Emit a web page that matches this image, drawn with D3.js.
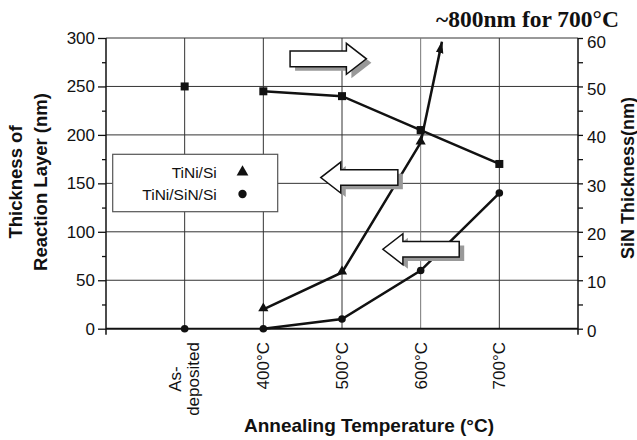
<html>
<script src="https://cdn.jsdelivr.net/npm/d3@7"></script>
<style>
body { margin: 0; background: #fff; }
text { font-family: "Liberation Sans", Arial, sans-serif; fill: #111; }
</style>
<body>
<div id="chart"></div>
<script>
// categories sit at index 1..5 of the x scale (0 and 6 are the frame edges)
var categories = ["As-deposited", "400°C", "500°C", "600°C", "700°C"];
var catIndex = [1, 2, 3, 4, 5];

// thickness of reaction layer (nm), left axis
var tiniSi = [null, 20, 58, 192, null];
var tiniSiNSi = [0, 0, 10, 60, 140];
// 700°C value for TiNi/Si is ~800nm, drawn as an arrow leaving the frame
var tiniSiArrowEnd = {i: 4.27, v: 296};

// SiN thickness (nm), right axis
var sinThick = [50, 49, 48, 41, 34];

var leftTicks = [0, 50, 100, 150, 200, 250, 300];
var leftMinor = [25, 75, 125, 175, 225, 275];
var rightTicks = [0, 10, 20, 30, 40, 50, 60];
var rightMinor = [5, 15, 25, 35, 45, 55];

// block arrows pointing at the axis each series belongs to
var blockArrows = [
  {from: 2.34, to: 3.31, v: 278.5},
  {from: 3.71, to: 2.73, v: 156},
  {from: 4.49, to: 3.52, v: 82}
];

var W = 637, H = 440;
var svg = d3.select("#chart").append("svg").attr("width", W).attr("height", H);

var x = d3.scaleLinear().domain([0, 6]).range([106, 578]);
var yL = d3.scaleLinear().domain([0, 300]).range([328.7, 38]);
var yR = d3.scaleLinear().domain([0, 60]).range([328.7, 38]);

// gridlines
svg.append("g").selectAll("line.h")
  .data(leftTicks.slice(1))
  .enter().append("line")
  .attr("x1", x(0)).attr("x2", x(6))
  .attr("y1", function(d){ return yL(d); }).attr("y2", function(d){ return yL(d); })
  .style("stroke", "#333").style("stroke-width", 1);

svg.append("g").selectAll("line.v")
  .data(catIndex)
  .enter().append("line")
  .attr("x1", function(d){ return x(d); }).attr("x2", function(d){ return x(d); })
  .attr("y1", yL(300)).attr("y2", yL(0))
  .style("stroke", function(d){ return d == 4 ? "#777" : "#333"; })
  .style("stroke-width", 1);

// axes
var gl = svg.append("g").attr("transform", "translate(" + x(0) + ",0)")
  .call(d3.axisLeft(yL).tickValues(leftTicks).tickSize(8).tickPadding(3));
gl.append("g").call(d3.axisLeft(yL).tickValues(leftMinor).tickSize(4).tickFormat(""));

var gr = svg.append("g").attr("transform", "translate(" + x(6) + ",0)")
  .call(d3.axisRight(yR).tickValues(rightTicks).tickSize(5).tickPadding(4));
gr.append("g").call(d3.axisRight(yR).tickValues(rightMinor).tickSize(5).tickFormat(""));
gr.selectAll(".tick text").attr("dy", function(d){ return d == 60 ? "0.55em" : "0.45em"; });

svg.selectAll(".domain").remove();
svg.selectAll(".tick line").style("stroke", "#111").style("stroke-width", 1.3);
svg.selectAll(".tick text").style("font-size", "17px").style("font-family", "'Liberation Sans', Arial, sans-serif").style("fill", "#111");

// frame axis lines
svg.append("line").attr("x1", x(0)).attr("x2", x(0)).attr("y1", yL(300)).attr("y2", yL(0) + 6)
  .style("stroke", "#111").style("stroke-width", 1.5);
svg.append("line").attr("x1", x(6)).attr("x2", x(6)).attr("y1", yL(300)).attr("y2", yL(0) + 6)
  .style("stroke", "#111").style("stroke-width", 1.5);
svg.append("line").attr("x1", x(0)).attr("x2", x(6)).attr("y1", yL(0)).attr("y2", yL(0))
  .style("stroke", "#111").style("stroke-width", 2);

// x tick labels, rotated
var xl = svg.append("g");
categories.forEach(function(c, k) {
  var cx = x(catIndex[k]);
  if (c == "As-deposited") {
    var t = xl.append("text")
      .attr("transform", "translate(" + cx + ",379) rotate(-90)")
      .attr("text-anchor", "middle").style("font-size", "17px");
    t.append("tspan").attr("x", 0).attr("dy", "-0.45em").text("As-");
    t.append("tspan").attr("x", 0).attr("dy", "1.05em").text("deposited");
    t.attr("dominant-baseline", "middle");
  } else {
    xl.append("text")
      .attr("transform", "translate(" + cx + ",342) rotate(-90)")
      .attr("text-anchor", "end").attr("dy", "0.36em")
      .style("font-size", "17px").text(c);
  }
});

// lines
var lineL = d3.line().x(function(d){ return x(d.i); }).y(function(d){ return yL(d.v); });
var lineR = d3.line().x(function(d){ return x(d.i); }).y(function(d){ return yR(d.v); });

function pts(vals, from) {
  var out = [];
  vals.forEach(function(v, k) {
    if (v != null && k >= from) out.push({i: catIndex[k], v: v});
  });
  return out;
}

svg.append("defs").append("marker")
  .attr("id", "tip").attr("viewBox", "0 0 10 10")
  .attr("refX", 9).attr("refY", 5)
  .attr("markerWidth", 5).attr("markerHeight", 5).attr("orient", "auto")
  .append("path").attr("d", "M0,2L10,5L0,8z").style("fill", "#111");

var triPts = pts(tiniSi, 1);
svg.append("path").datum(triPts)
  .attr("d", lineL).style("fill", "none").style("stroke", "#111").style("stroke-width", 2.5);
svg.append("path").datum([triPts[triPts.length - 1], tiniSiArrowEnd])
  .attr("d", lineL).style("fill", "none").style("stroke", "#111").style("stroke-width", 2.5)
  .attr("marker-end", "url(#tip)");

svg.append("path").datum(pts(tiniSiNSi, 1))
  .attr("d", lineL).style("fill", "none").style("stroke", "#111").style("stroke-width", 2.5);

svg.append("path").datum(pts(sinThick, 1))
  .attr("d", lineR).style("fill", "none").style("stroke", "#111").style("stroke-width", 2.5);

// markers
svg.append("g").selectAll("path")
  .data(pts(tiniSi, 0))
  .enter().append("path")
  .attr("d", d3.symbol().type(d3.symbolTriangle).size(45))
  .attr("transform", function(d){ return "translate(" + x(d.i) + "," + (yL(d.v) - 1) + ")"; })
  .style("fill", "#111");

svg.append("g").selectAll("circle")
  .data(pts(tiniSiNSi, 0))
  .enter().append("circle")
  .attr("cx", function(d){ return x(d.i); }).attr("cy", function(d){ return yL(d.v); })
  .attr("r", 3.8).style("fill", "#111");

svg.append("g").selectAll("rect")
  .data(pts(sinThick, 0))
  .enter().append("rect")
  .attr("x", function(d){ return x(d.i) - 4; }).attr("y", function(d){ return yR(d.v) - 4; })
  .attr("width", 8).attr("height", 8).style("fill", "#111");

// block arrows
function arrowPath(a) {
  var x0 = x(a.from), x1 = x(a.to), yc = yL(a.v);
  var dir = x1 > x0 ? 1 : -1, h = 7.8, hh = 15.5, L = 20 * dir;
  return "M" + x0 + "," + (yc - h) + "L" + (x1 - L) + "," + (yc - h) +
    "L" + (x1 - L) + "," + (yc - hh) + "L" + x1 + "," + yc +
    "L" + (x1 - L) + "," + (yc + hh) + "L" + (x1 - L) + "," + (yc + h) +
    "L" + x0 + "," + (yc + h) + "Z";
}
var ba = svg.append("g").selectAll("g").data(blockArrows).enter().append("g");
ba.append("path").attr("d", arrowPath).attr("transform", "translate(5,4)").style("fill", "#999");
ba.append("path").attr("d", arrowPath)
  .style("fill", "#fff").style("stroke", "#111").style("stroke-width", 1.5);

// legend
var lg = svg.append("g");
lg.append("rect").attr("x", 112.7).attr("y", 154.3).attr("width", 165).attr("height", 57.4)
  .style("fill", "#fff").style("stroke", "#555").style("stroke-width", 1.2);
lg.append("text").attr("x", 216.7).attr("y", 178.3).attr("text-anchor", "end")
  .style("font-size", "15.5px").text("TiNi/Si");
lg.append("text").attr("x", 216.7).attr("y", 200).attr("text-anchor", "end")
  .style("font-size", "15.5px").text("TiNi/SiN/Si");
lg.append("path").attr("d", d3.symbol().type(d3.symbolTriangle).size(60))
  .attr("transform", "translate(242.5,172)").style("fill", "#111");
lg.append("circle").attr("cx", 242.5).attr("cy", 194).attr("r", 4.2).style("fill", "#111");

// titles
svg.append("text").attr("x", 619).attr("y", 27).attr("text-anchor", "end")
  .style("font-family", "'Liberation Serif', 'Times New Roman', serif")
  .style("font-weight", "bold").style("font-size", "23.5px").text("~800nm for 700°C");

svg.append("text").attr("x", 369).attr("y", 432).attr("text-anchor", "middle")
  .style("font-weight", "bold").style("font-size", "19px").text("Annealing Temperature (°C)");

var yt = svg.append("text").attr("transform", "translate(28,182) rotate(-90)")
  .attr("text-anchor", "middle").style("font-weight", "bold").style("font-size", "18.5px");
yt.append("tspan").attr("x", 0).attr("dy", "-0.3em").text("Thickness of");
yt.append("tspan").attr("x", 0).attr("dy", "1.35em").text("Reaction Layer (nm)");

svg.append("text").attr("transform", "translate(634,178) rotate(-90)")
  .attr("text-anchor", "middle").style("font-weight", "bold").style("font-size", "18px")
  .text("SiN Thickness(nm)");
</script>
</body>
</html>
